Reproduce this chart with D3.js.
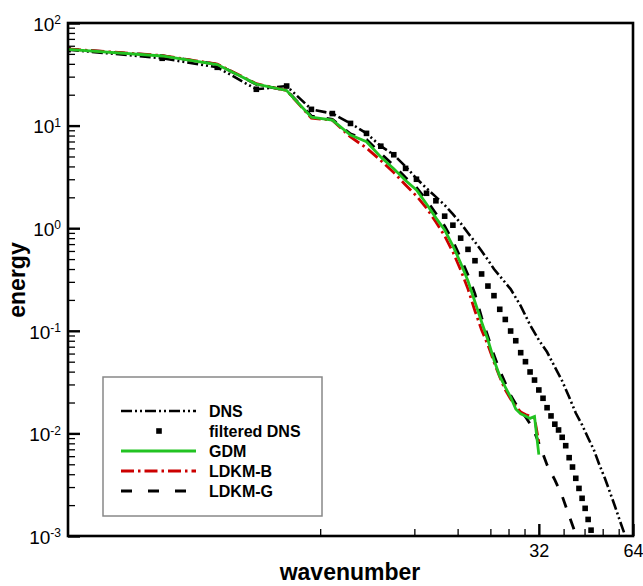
<!DOCTYPE html>
<html>
<head>
<meta charset="utf-8">
<script src="https://cdn.jsdelivr.net/npm/d3@7"></script>
<style>
  body { margin: 0; background: #fff; }
  svg { font-family: "Liberation Sans", Arial, Helvetica, sans-serif; }
</style>
</head>
<body>
<svg id="svg" width="643" height="586"></svg>
<script>
// --- data ---
var kDNS = [1, 2, 3, 4, 5, 6, 7, 8, 9, 10, 11, 12, 13, 14, 15, 16, 17, 18, 19, 20, 21, 22, 23, 24,
            26, 28, 30, 32, 34, 36, 38, 40, 42, 44, 46, 48, 50, 52, 54, 56, 58, 60, 62];
var eDNS = [55, 45.3, 37.0, 22.6, 24.3, 14.4, 13.1, 10.5, 8.4, 6.3, 5.2, 3.99, 3.05, 2.45, 2.02, 1.68,
            1.37, 1.12, 0.898, 0.734, 0.600, 0.490, 0.400, 0.342,
            0.255, 0.175, 0.114, 0.0813, 0.0621, 0.0444, 0.0324, 0.0226, 0.0158, 0.0121, 0.00902,
            0.00689, 0.00492, 0.00367, 0.00268, 0.00196, 0.00143, 0.00107, 0.0008];

var kFilt = d3.range(1, 48);
var eFilt = [55, 45.3, 37.0, 22.6, 24.3, 14.4, 13.1, 10.5, 8.4, 6.3, 5.2, 3.83, 3.0, 2.19, 1.85, 1.31,
             1.07, 0.80, 0.622, 0.482, 0.358, 0.273, 0.220, 0.162, 0.129, 0.0995, 0.080, 0.0612,
             0.050, 0.0397, 0.0331, 0.0265, 0.0220, 0.0178, 0.0148, 0.0123, 0.0108, 0.00916,
             0.00759, 0.0058, 0.0047, 0.00365, 0.00291, 0.00233, 0.00186, 0.00145, 0.00114];

var kGDM = d3.range(1, 33);
var eGDM = [55.4, 47.7, 39.4, 25.4, 22.0, 12.1, 11.3, 8.1, 6.97, 4.94, 3.79, 2.92, 2.36, 1.72, 1.26,
            0.96, 0.671, 0.458, 0.306, 0.191, 0.122, 0.0813, 0.0519, 0.0362, 0.0283, 0.0226,
            0.0173, 0.0155, 0.0148, 0.0140, 0.0146, 0.0062];

var kLDKMB = d3.range(1, 33);
var eLDKMB = [55.8, 48.2, 39.8, 25.6, 22.0, 11.8, 11.3, 7.74, 6.05, 4.57, 3.49, 2.64, 2.06, 1.57, 1.15,
              0.84, 0.586, 0.392, 0.255, 0.156, 0.102, 0.0728, 0.0497, 0.0354, 0.0265, 0.0216,
              0.0183, 0.0162, 0.0153, 0.0147, 0.0141, 0.00824];

var kLDKMG = [1, 2, 3, 4, 5, 6, 7, 8, 9, 10, 11, 12, 13, 14, 15, 16, 17, 18, 19, 20, 21, 22, 23, 24,
              25, 26, 27, 28, 29, 30, 31, 32, 34, 36, 38, 40, 42, 44];
var eLDKMG = [55.6, 48.0, 39.6, 25.2, 22.0, 12.4, 11.5, 8.3, 7.32, 5.35, 4.09, 3.12, 2.49, 1.88, 1.39,
              1.05, 0.75, 0.513, 0.350, 0.229, 0.135, 0.088, 0.058, 0.041, 0.031, 0.0235, 0.0194,
              0.0169, 0.0145, 0.0124, 0.0103, 0.00806, 0.00492, 0.00352, 0.00245, 0.00157,
              0.00104, 0.00068];

var xMajor = [32, 64];
var xMinor = [6.4, 12.8, 17.6, 22.4, 25.6, 28.8, 38.4, 44.8, 51.2, 57.6];
var yMajor = [1e-3, 1e-2, 1e-1, 1e0, 1e1, 1e2];

var legendNames = ["DNS", "filtered DNS", "GDM", "LDKM-B", "LDKM-G"];

// --- layout ---
var svg = d3.select("#svg");
var x0 = 68, x1 = 633, y0 = 23, y1 = 536;

var x = d3.scaleLog().base(2).domain([1, 64]).range([x0, x1]);
var y = d3.scaleLog().domain([1e-3, 1e2]).range([y1, y0]);

function pairs(ks, vs) { return ks.map(function(k, i) { return [k, vs[i]]; }); }

var line = d3.line()
    .x(function(d) { return x(d[0]); })
    .y(function(d) { return y(d[1]); });

svg.append("defs").append("clipPath").attr("id", "clip")
  .append("rect")
    .attr("x", x0).attr("y", y0)
    .attr("width", x1 - x0).attr("height", y1 - y0);

var styles = {
  "DNS":    { color: "#000", dash: "11,3,2,3,2,3", width: 2.6 },
  "GDM":    { color: "#22c322", dash: null, width: 2.8 },
  "LDKM-B": { color: "#cc0000", dash: "13,4,2.5,4", width: 2.8 },
  "LDKM-G": { color: "#000", dash: "11,12", width: 2.8 }
};

var plot = svg.append("g").attr("clip-path", "url(#clip)");

function drawLine(data, st) {
  plot.append("path")
      .datum(data)
      .attr("fill", "none")
      .attr("stroke", st.color)
      .attr("stroke-width", st.width)
      .attr("stroke-dasharray", st.dash)
      .attr("d", line);
}

drawLine(pairs(kDNS, eDNS), styles["DNS"]);

plot.selectAll("rect.filt")
  .data(pairs(kFilt, eFilt))
  .enter().append("rect")
    .attr("class", "filt")
    .attr("x", function(d) { return x(d[0]) - 2.8; })
    .attr("y", function(d) { return y(d[1]) - 2.8; })
    .attr("width", 5.6)
    .attr("height", 5.6)
    .attr("fill", "#000");

drawLine(pairs(kLDKMG, eLDKMG), styles["LDKM-G"]);
drawLine(pairs(kLDKMB, eLDKMB), styles["LDKM-B"]);
drawLine(pairs(kGDM, eGDM), styles["GDM"]);

// --- axes ---
var yMinor = y.ticks().filter(function(d) { return yMajor.indexOf(d) < 0; });

svg.append("g")
    .attr("transform", "translate(" + x0 + ",0)")
    .call(d3.axisLeft(y).tickValues(yMinor).tickSizeInner(-7).tickSizeOuter(0).tickFormat(""))
    .call(function(g) { g.select(".domain").remove(); })
    .selectAll("line").attr("stroke-width", 1.3);

var yAxis = svg.append("g")
    .attr("transform", "translate(" + x0 + ",0)")
    .call(d3.axisLeft(y).tickValues(yMajor).tickSizeInner(-12).tickSizeOuter(0).tickPadding(7).tickFormat(""));
yAxis.select(".domain").remove();
yAxis.selectAll("line").attr("stroke-width", 2.4);
yAxis.selectAll(".tick text")
    .attr("font-size", "19px")
    .attr("fill", "#000")
    .attr("dy", "0.38em")
    .each(function(d) {
      var t = d3.select(this);
      t.append("tspan").text("10");
      t.append("tspan").attr("dy", "-0.55em").attr("font-size", "12px")
        .text(String(Math.round(Math.log10(d))));
    });

svg.append("g")
    .attr("transform", "translate(0," + y1 + ")")
    .call(d3.axisBottom(x).tickValues(xMinor).tickSizeInner(-7).tickSizeOuter(0).tickFormat(""))
    .call(function(g) { g.select(".domain").remove(); })
    .selectAll("line").attr("stroke-width", 1.3);

var xAxis = svg.append("g")
    .attr("transform", "translate(0," + y1 + ")")
    .call(d3.axisBottom(x).tickValues(xMajor).tickSizeInner(-12).tickSizeOuter(0).tickPadding(8)
      .tickFormat(function(d) { return d; }));
xAxis.select(".domain").remove();
xAxis.selectAll("line").attr("stroke-width", 2.4);
xAxis.selectAll(".tick text").attr("font-size", "18px").attr("fill", "#000");

// frame
svg.append("rect")
    .attr("x", x0).attr("y", y0)
    .attr("width", x1 - x0).attr("height", y1 - y0)
    .attr("fill", "none")
    .attr("stroke", "#000")
    .attr("stroke-width", 2.6);

// axis titles
svg.append("text")
    .attr("x", 350).attr("y", 580)
    .attr("text-anchor", "middle")
    .attr("font-size", "23px")
    .attr("font-weight", "bold")
    .text("wavenumber");

svg.append("text")
    .attr("transform", "translate(25,280)rotate(-90)")
    .attr("text-anchor", "middle")
    .attr("font-size", "23px")
    .attr("font-weight", "bold")
    .text("energy");

// --- legend ---
var lg = svg.append("g");
lg.append("rect")
    .attr("x", 103).attr("y", 377)
    .attr("width", 219).attr("height", 139)
    .attr("fill", "#fff")
    .attr("stroke", "#888")
    .attr("stroke-width", 1.5);

legendNames.forEach(function(name, i) {
  var ly = 411 + i * 20;
  if (name === "filtered DNS") {
    lg.append("rect")
        .attr("x", 159 - 2.8).attr("y", ly - 2.8)
        .attr("width", 5.6).attr("height", 5.6)
        .attr("fill", "#000");
  } else {
    var st = styles[name];
    lg.append("line")
        .attr("x1", 121).attr("x2", 196)
        .attr("y1", ly).attr("y2", ly)
        .attr("stroke", st.color)
        .attr("stroke-width", st.width)
        .attr("stroke-dasharray", name === "LDKM-G" ? "11,16" : st.dash);
  }
  lg.append("text")
      .attr("x", 209).attr("y", ly)
      .attr("dy", "0.36em")
      .attr("font-size", "16px")
      .attr("font-weight", "bold")
      .text(name);
});
</script>
</body>
</html>
